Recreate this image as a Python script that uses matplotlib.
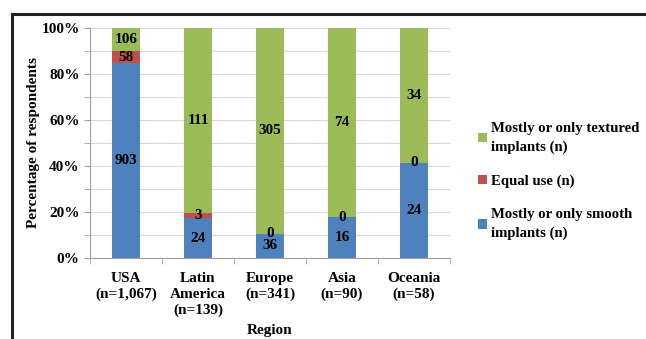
import matplotlib
matplotlib.use("Agg")
import matplotlib.pyplot as plt
import numpy as np
from matplotlib.lines import Line2D
from matplotlib.ticker import MultipleLocator, FuncFormatter

regions = ["USA\n(n=1,067)", "Latin\nAmerica\n(n=139)", "Europe\n(n=341)", "Asia\n(n=90)", "Oceania\n(n=58)"]
smooth = [903, 24, 36, 16, 24]
equal = [58, 3, 0, 0, 0]
textured = [106, 111, 305, 74, 34]

colors = {"smooth": "#4F81BD", "equal": "#C0504D", "textured": "#9BBB59"}

plt.rcParams["font.family"] = ["Liberation Serif", "DejaVu Serif"]
plt.rcParams["font.weight"] = "bold"

fig = plt.figure(figsize=(6.46, 3.39), dpi=100)
ax = fig.add_axes([90/646, 1-258/339, 360/646, 230/339])

x = np.arange(len(regions))
s = np.array(smooth, float)
e = np.array(equal, float)
t = np.array(textured, float)
tot = s + e + t
ps, pe, pt = s/tot, e/tot, t/tot

w = 0.39
b1 = ax.bar(x, ps, w, color=colors["smooth"], label="Mostly or only smooth\nimplants (n)", zorder=3)
b2 = ax.bar(x, pe, w, bottom=ps, color=colors["equal"], label="Equal use (n)", zorder=3)
b3 = ax.bar(x, pt, w, bottom=ps+pe, color=colors["textured"], label="Mostly or only textured\nimplants (n)", zorder=3)

fs = 11
for i in range(len(x)):
    ax.text(x[i], ps[i]/2, str(smooth[i]), ha="center", va="center", fontsize=fs, fontweight="bold", zorder=5)
    ax.text(x[i], ps[i]+pe[i]/2, str(equal[i]), ha="center", va="center", fontsize=fs, fontweight="bold", zorder=5)
    ax.text(x[i], ps[i]+pe[i]+pt[i]/2, str(textured[i]), ha="center", va="center", fontsize=fs, fontweight="bold", zorder=5)

ax.set_xlim(-0.5, len(x)-0.5)
ax.set_ylim(0, 1)
ax.yaxis.set_major_locator(MultipleLocator(0.2))
ax.yaxis.set_minor_locator(MultipleLocator(0.1))
ax.yaxis.set_major_formatter(FuncFormatter(lambda v, p: f"{v*100:.0f}%"))
ax.grid(axis="y", which="both", color="#D9D9D9", linewidth=0.8, zorder=0)
ax.set_axisbelow(True)

ax.set_xticks(x)
ax.set_xticklabels(regions, fontsize=fs, fontweight="bold", linespacing=1.3)
ax.set_xticks(np.arange(-0.5, len(x)), minor=True)
ax.tick_params(axis="x", which="major", length=0, pad=10)
ax.tick_params(axis="x", which="minor", length=4, color="#A0A0A0", direction="out")
ax.tick_params(axis="y", which="both", length=4, color="#A0A0A0", labelsize=fs)
for lab in ax.get_yticklabels():
    lab.set_fontweight("bold")

for sp in ["top", "right"]:
    ax.spines[sp].set_visible(False)
for sp in ["left", "bottom"]:
    ax.spines[sp].set_color("#A0A0A0")
    ax.spines[sp].set_linewidth(0.8)

ax.set_ylabel("Percentage of respondents", fontsize=fs, fontweight="bold", labelpad=1)
ax.set_xlabel("Region", fontsize=fs, fontweight="bold", labelpad=5)

handles = [b3, b2, b1]
labels = [h.get_label() for h in handles]
leg = fig.legend(handles, labels, loc="center left", bbox_to_anchor=(465/646, 1-181/339),
                 frameon=False, handlelength=0.6, handleheight=0.6,
                 handletextpad=0.25, labelspacing=1.4, prop={"weight": "bold", "size": 10.6})
for txt in leg.get_texts():
    txt.set_linespacing(1.5)

fig.add_artist(Line2D([12/646, 1.0], [1-14/339, 1-14/339], color="#222222", linewidth=2.2, transform=fig.transFigure))
fig.add_artist(Line2D([12/646, 12/646], [1-14/339, 0], color="#222222", linewidth=2.2, transform=fig.transFigure))

fig.savefig("out.png", dpi=100)
